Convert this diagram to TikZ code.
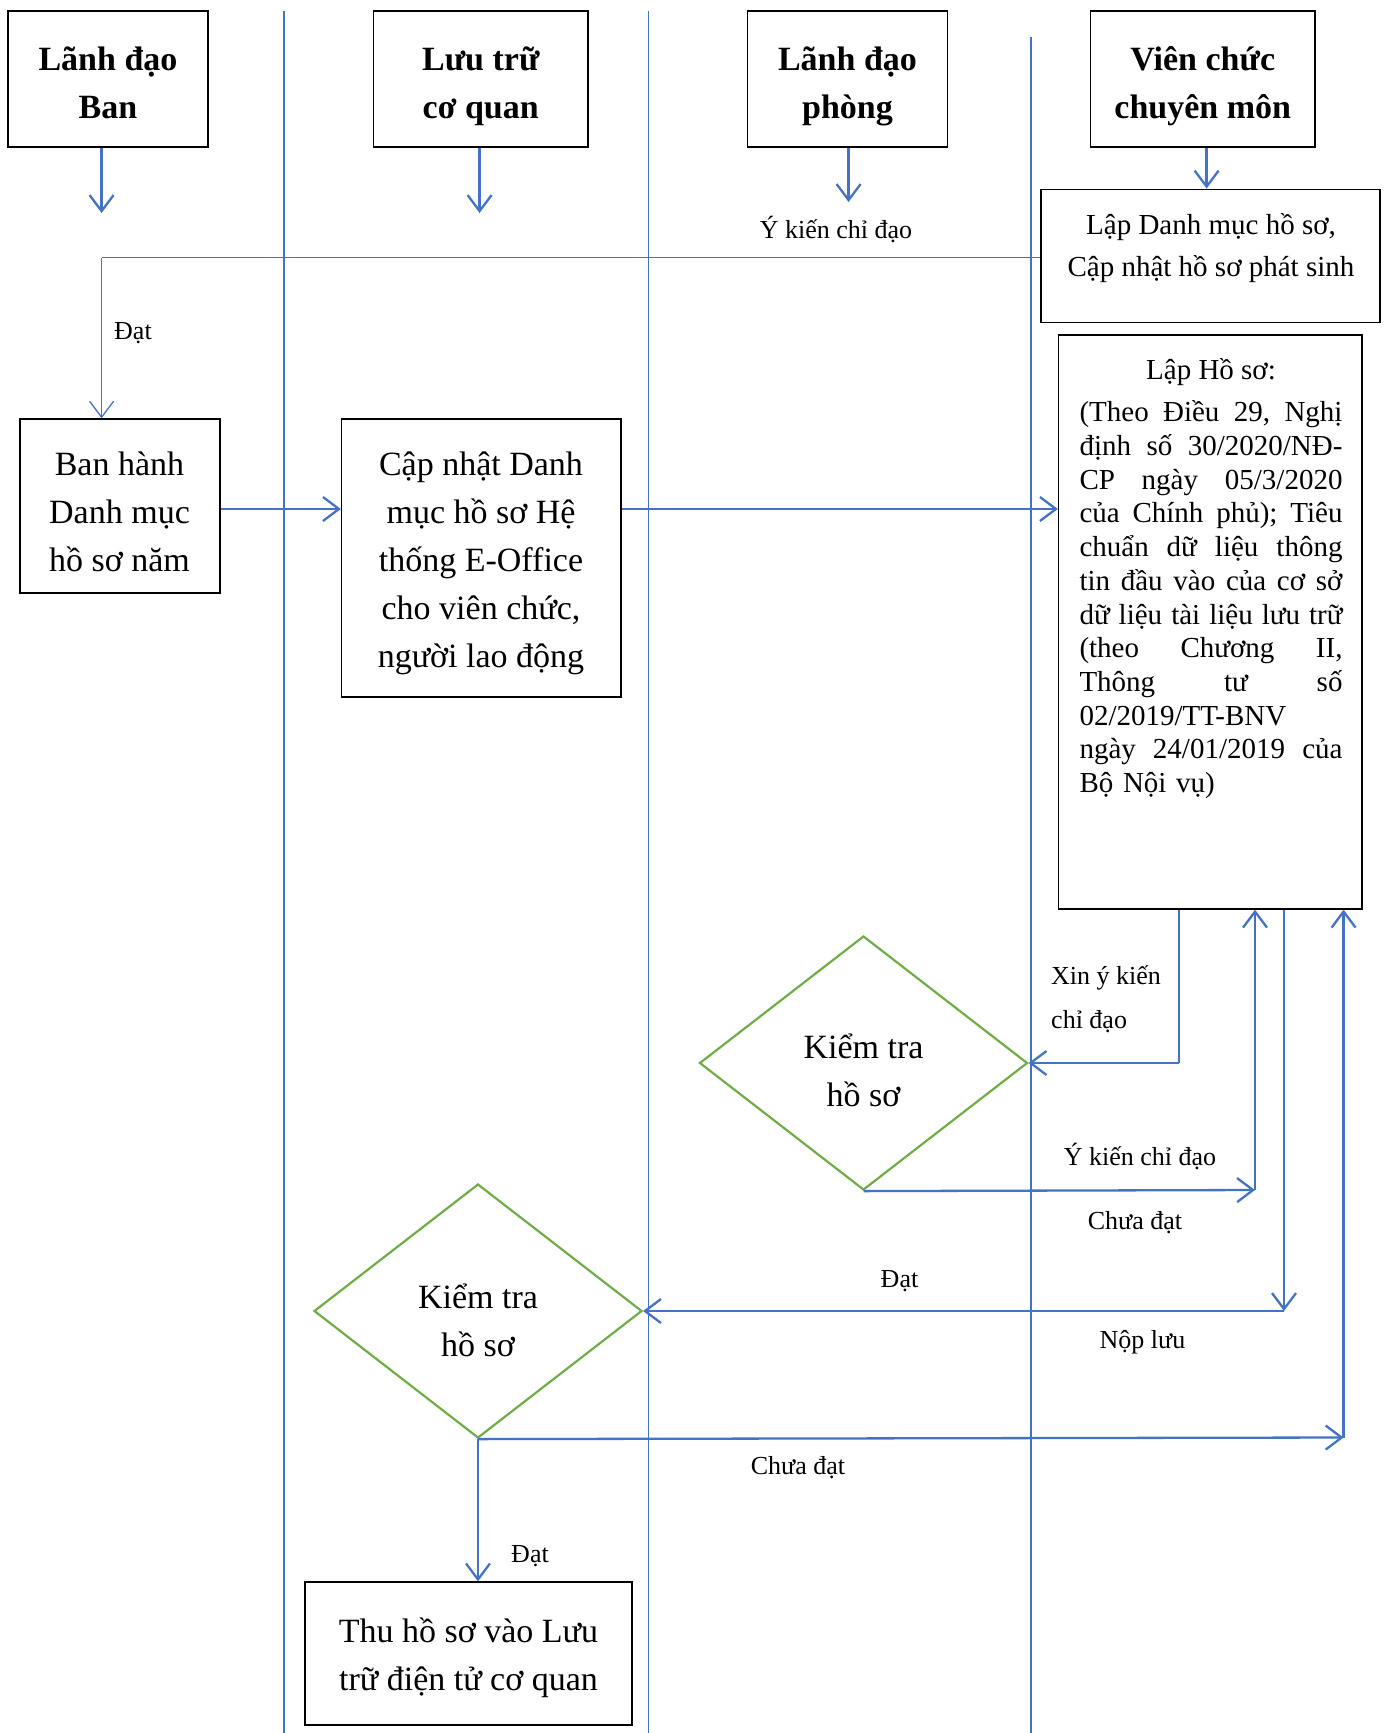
\documentclass[tikz,border=0pt]{standalone}
\usepackage{fontspec}
\setmainfont{Liberation Serif}
\usetikzlibrary{arrows.meta,shapes.geometric}
\definecolor{lane}{HTML}{4472C4}
\definecolor{dgreen}{HTML}{70AD47}
\newcommand\jline[1]{\hbox to 263pt{\strut #1}}
\begin{document}
\begin{tikzpicture}[x=1pt,y=-1pt,
 hdr/.style={draw, line width=1.3pt, minimum width=#1, minimum height=136pt, inner sep=0pt},
 hdrtxt/.style={inner sep=0pt, align=center, font=\fontsize{34}{48.5}\selectfont\bfseries},
 box/.style={draw, line width=1.3pt, inner sep=0pt},
 boxtxt/.style={inner sep=0pt, align=center, font=\fontsize{34}{48}\selectfont},
 dia/.style={diamond, draw=dgreen, line width=2.2pt, minimum width=328pt, minimum height=254pt, inner sep=0pt},
 lbl/.style={inner sep=0pt, font=\fontsize{26}{44}\selectfont},
 lanel/.style={draw=lane, line width=1.2pt},
 arr/.style={draw=lane, line width=2.3pt, -{Straight Barb[length=16pt,width=24pt]}},
 arrthin/.style={draw=lane, line width=1.3pt, -{Straight Barb[length=16pt,width=24pt]}},
 lnthin/.style={draw=lane, line width=1.3pt},
]
\useasboundingbox (0,0) rectangle (1390,1733);
\fill[white] (0,0) rectangle (1390,1733);

% swimlane separators
\coordinate (L1t) at (284,11);   \coordinate (L1b) at (284,1733);
\coordinate (L2t) at (648.6,11); \coordinate (L2b) at (648.6,1733);
\coordinate (L3t) at (1031,37);  \coordinate (L3b) at (1031,1733);
\draw[lanel] (L1t) -- (L1b);
\draw[lanel] (L2t) -- (L2b);
\draw[lanel] (L3t) -- (L3b);

% headers
\node[hdr=200pt] (hBan) at (108,79) {};
\node[hdrtxt] (hBanT) at (108,85) {\strut Lãnh đạo\\\strut Ban};
\node[hdr=214.5pt] (hLuu) at (480.75,79) {};
\node[hdrtxt] (hLuuT) at (480.75,85) {\strut Lưu trữ\\\strut cơ quan};
\node[hdr=200pt] (hPhong) at (847.5,79) {};
\node[hdrtxt] (hPhongT) at (847.5,85) {\strut Lãnh đạo\\\strut phòng};
\node[hdr=224.5pt] (hVC) at (1202.75,79) {};
\node[hdrtxt] (hVCT) at (1202.75,85) {\strut Viên chức\\\strut chuyên môn};

% boxes
\node[box, minimum width=339pt, minimum height=133.6pt] (lapDM) at (1210.5,256) {};
\node[inner sep=0pt, align=center, font=\fontsize{29}{42}\selectfont] (lapDMt) at (1211,247.5) {\strut Lập Danh mục hồ sơ,\\\strut Cập nhật hồ sơ phát sinh};
\node[box, minimum width=200pt, minimum height=174pt] (banHanh) at (120,506) {};
\node[boxtxt] (banHanhT) at (119.5,514) {\strut Ban hành\\\strut Danh mục\\\strut hồ sơ năm};
\node[box, minimum width=279.5pt, minimum height=278pt] (capNhat) at (481.25,558) {};
\node[boxtxt] (capNhatT) at (481,562) {\strut Cập nhật Danh\\\strut mục hồ sơ Hệ\\\strut thống E-Office\\\strut cho viên chức,\\\strut người lao động};
\node[box, minimum width=303.5pt, minimum height=574pt] (lapHS) at (1210.25,622) {};
\node[inner sep=0pt, font=\fontsize{29}{34}\selectfont] (lapHSh) at (1211,373) {\strut Lập Hồ sơ:};
\node[inner sep=0pt, text width=263pt, font=\fontsize{29}{33.7}\selectfont] (lapHSb) at (1211,600.5) {%
\jline{(Theo\hfill Điều\hfill 29,\hfill Nghị}
\jline{định\hfill số\hfill 30/2020/NĐ-}
\jline{CP\hfill ngày\hfill 05/3/2020}
\jline{của\hfill Chính\hfill phủ);\hfill Tiêu}
\jline{chuẩn\hfill dữ\hfill liệu\hfill thông}
\jline{tin\hfill đầu\hfill vào\hfill của\hfill cơ\hfill sở}
\jline{dữ\hfill liệu\hfill tài\hfill liệu\hfill lưu\hfill trữ}
\jline{(theo\hfill Chương\hfill II,}
\jline{Thông\hfill tư\hfill số}
\jline{02/2019/TT-BNV\hfill}
\jline{ngày\hfill 24/01/2019\hfill của}
\jline{Bộ Nội vụ)\hfill}};

\node[dia] (d1) at (863.5,1063) {};
\node[boxtxt] (d1T) at (863.5,1073) {\strut Kiểm tra\\\strut hồ sơ};
\node[dia] (d2) at (478,1311) {};
\node[boxtxt] (d2T) at (478,1323) {\strut Kiểm tra\\\strut hồ sơ};
\node[box, minimum width=327pt, minimum height=143pt] (thu) at (468.5,1653.5) {};
\node[boxtxt] (thuT) at (468.5,1656.5) {\strut Thu hồ sơ vào Lưu\\\strut trữ điện tử cơ quan};

% connectors
\coordinate (eBan) at (101.6,213);
\coordinate (eLuu) at (479.6,213);
\coordinate (ePhong) at (848.6,202);
\coordinate (xVC) at (1206.6,0);
\draw[arr] (hBan.south -| eBan) -- (eBan);
\draw[arr] (hLuu.south -| eLuu) -- (eLuu);
\draw[arr] (hPhong.south -| ePhong) -- (ePhong);
\draw[arr] (hVC.south -| xVC) -- (lapDM.north -| xVC);

\coordinate (kBan) at (101.6,257.5);
\draw[lnthin] (lapDM.west |- kBan) -- (kBan);
\draw[arrthin] (kBan) -- (banHanh.north -| kBan);

\coordinate (r1) at (0,509);
\draw[arr] (banHanh.east |- r1) -- (capNhat.west |- r1);
\draw[arr] (capNhat.east |- r1) -- (lapHS.west |- r1);

\coordinate (cXin) at (1179,1063);
\draw[lnthin] (lapHS.south -| cXin) -- (cXin);
\draw[arr] (cXin) -- (d1.east);

\coordinate (cY) at (1255,1190);
\draw[arr] (d1.south) -- (cY);
\draw[arr] (cY) -- (lapHS.south -| cY);

\coordinate (cN) at (1284,1311);
\draw[arr] (lapHS.south -| cN) -- (cN);
\draw[arr] (cN) -- (d2.east);

\coordinate (cC) at (1343.6,1437.5);
\draw[arr] (d2.south) -- (cC);
\draw[arr] (cC) -- (lapHS.south -| cC);
\draw[arr] (d2.south) -- (d2.south |- thu.north);

% labels
\node[lbl, anchor=west] (tDat1) at (114,330.4) {\strut Đạt};
\node[lbl] (tYk1) at (836,229.8) {\strut Ý kiến chỉ đạo};
\node[lbl, anchor=west, align=left] (tXin) at (1051,998) {\strut Xin ý kiến\\\strut chỉ đạo};
\node[lbl] (tYk2) at (1140,1157) {\strut Ý kiến chỉ đạo};
\node[lbl] (tChua1) at (1135,1221) {\strut Chưa đạt};
\node[lbl] (tDat2) at (899.5,1278.5) {\strut Đạt};
\node[lbl] (tNop) at (1142.5,1339.3) {\strut Nộp lưu};
\node[lbl] (tChua2) at (798,1465.2) {\strut Chưa đạt};
\node[lbl] (tDat3) at (530,1553.6) {\strut Đạt};
\end{tikzpicture}
\end{document}
